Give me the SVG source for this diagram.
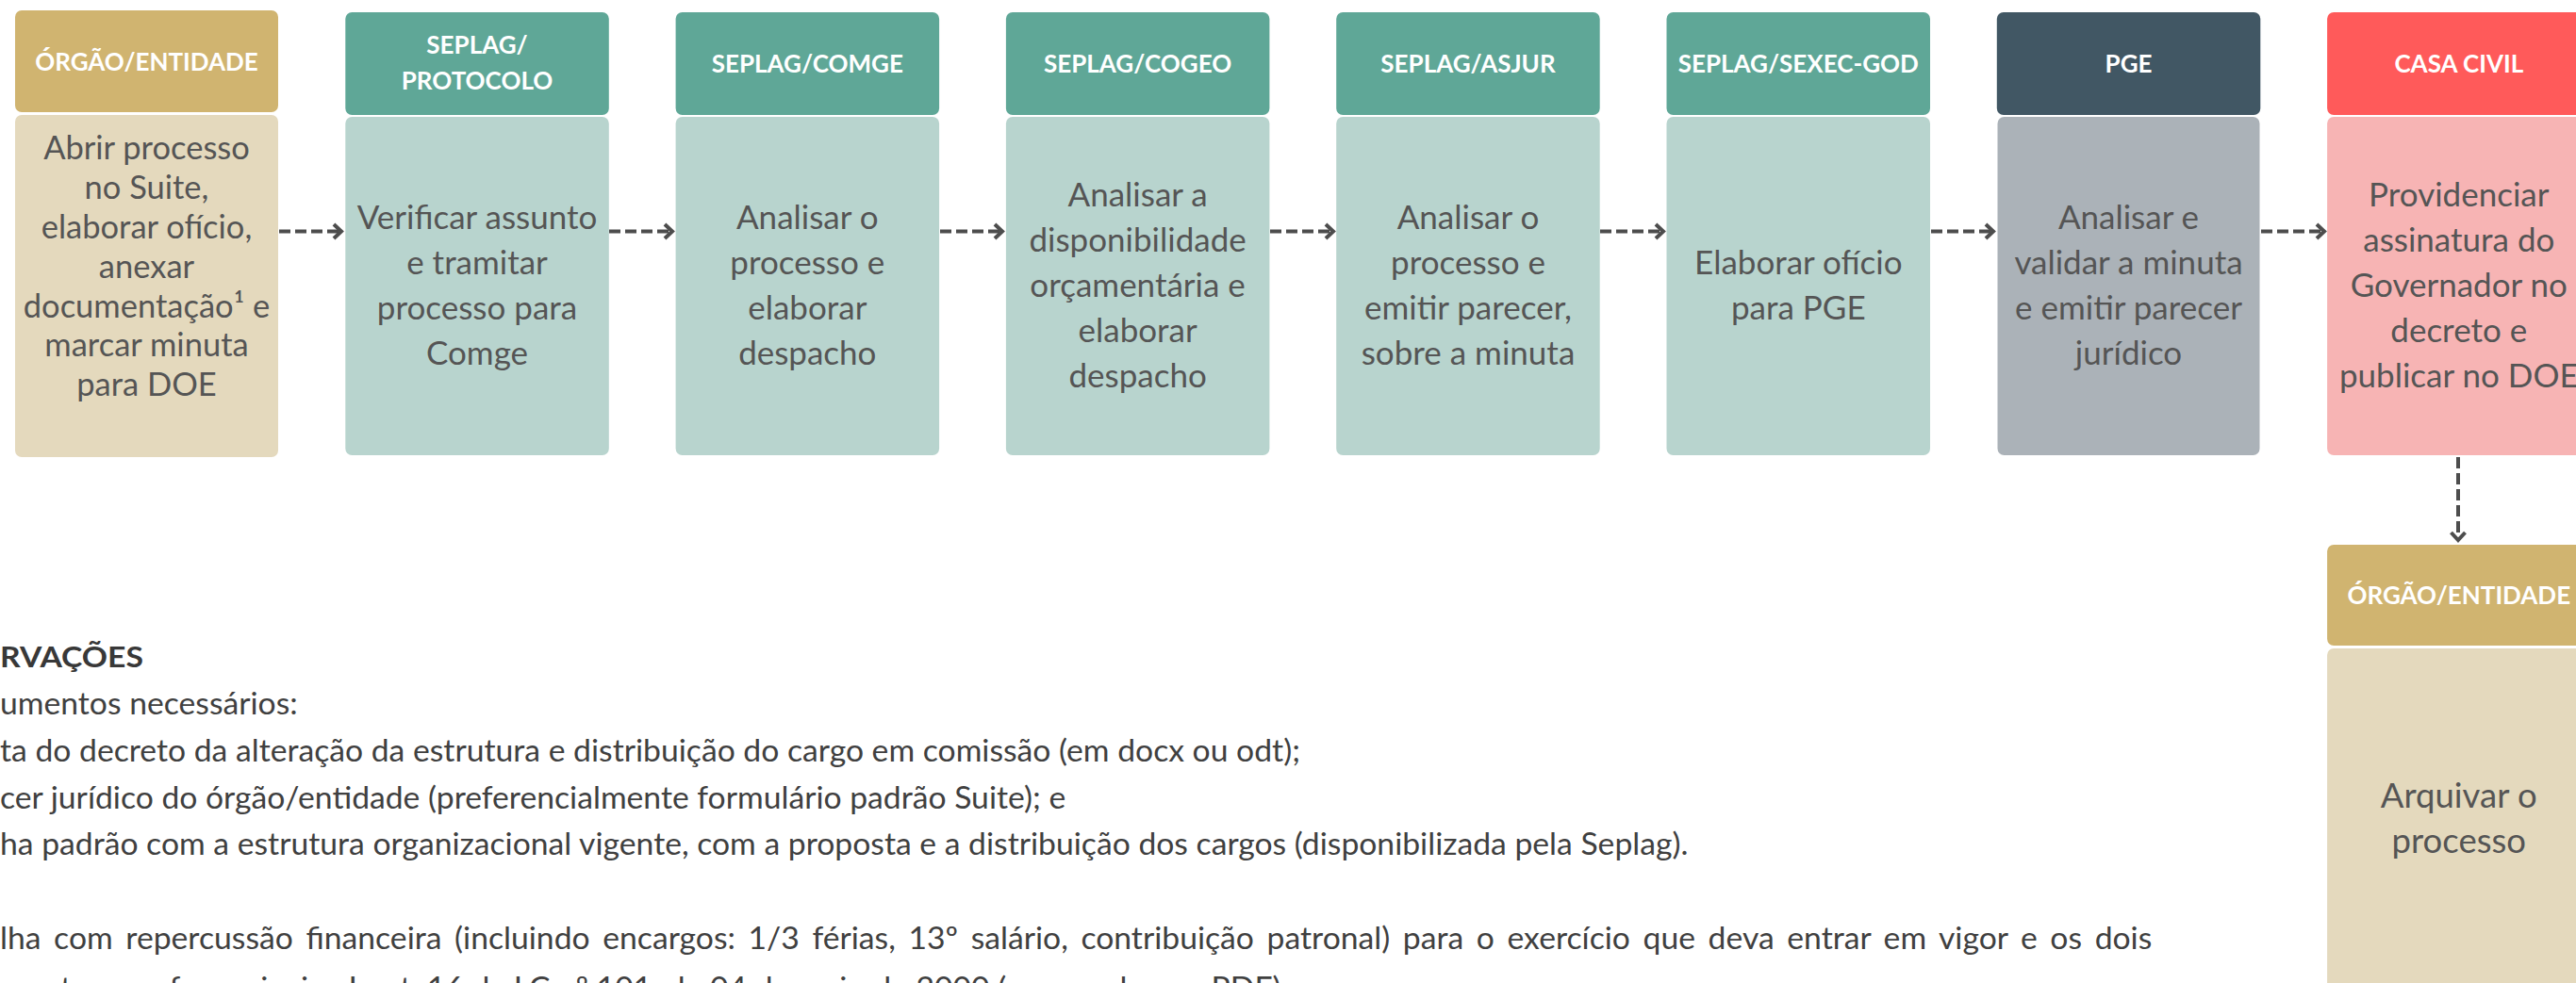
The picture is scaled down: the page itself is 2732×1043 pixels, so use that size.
<svg xmlns="http://www.w3.org/2000/svg" width="2732" height="1043" viewBox="0 0 2732 1043">
<defs>
<style>
.hd{font-family:Lato,"Noto Sans","Liberation Sans",sans-serif;font-weight:700;font-size:26px;fill:#ffffff;text-anchor:middle}
.bd{font-family:Lato,"Noto Sans","Liberation Sans",sans-serif;font-weight:400;font-size:35px;fill:#555555;text-anchor:middle}
.ob{font-family:Lato,"Noto Sans","Liberation Sans",sans-serif;font-weight:400;font-size:33.7px;fill:#404040}
.obh{font-family:Lato,"Noto Sans","Liberation Sans",sans-serif;font-weight:700;font-size:31px;fill:#383838}
.gold-h{fill:#D0B470}.gold-b{fill:#E4D9BD}
.teal-h{fill:#5FA797}.teal-b{fill:#B8D4CE}
.pge-h{fill:#415764}.pge-b{fill:#ABB2B8}
.cc-h{fill:#FF5A5A}.cc-b{fill:#F7B4B4}
.con{fill:none;stroke:#4D4D4D;stroke-width:4;stroke-dasharray:12 5;marker-end:url(#arr)}
</style>
<marker id="arr" markerUnits="userSpaceOnUse" markerWidth="20" markerHeight="24" refX="10" refY="10" orient="auto" overflow="visible">
<path d="M2,2.5 L10,10 L2,17.5" fill="none" stroke="#4D4D4D" stroke-width="4" stroke-dasharray="none"/>
</marker>
</defs>
<rect x="0" y="0" width="2732" height="1043" fill="#ffffff"/>

<g id="connectors">
<path class="con" d="M296,245.5 H362"/>
<path class="con" d="M646,245.5 H713"/>
<path class="con" d="M997,245.5 H1063"/>
<path class="con" d="M1347,245.5 H1414"/>
<path class="con" d="M1697,245.5 H1764"/>
<path class="con" d="M2048,245.5 H2114"/>
<path class="con" d="M2398,245.5 H2465"/>
<path class="con" d="M2607,485 V573"/>
</g>

<g id="node-orgao-1">
<rect class="gold-h" x="16" y="11" width="279" height="108" rx="7"/>
<rect class="gold-b" x="16" y="122" width="279" height="363" rx="7"/>
<text class="hd" x="155.5" y="75">ÓRGÃO/ENTIDADE</text>
<text class="bd" style="font-size:34.5px"><tspan x="155.5" y="169">Abrir processo</tspan><tspan x="155.5" y="211">no Suite,</tspan><tspan x="155.5" y="253">elaborar ofício,</tspan><tspan x="155.5" y="295">anexar</tspan><tspan x="155.5" y="337">documentação¹ e</tspan><tspan x="155.5" y="378">marcar minuta</tspan><tspan x="155.5" y="420">para DOE</tspan></text>
</g>

<g id="node-protocolo">
<rect class="teal-h" x="366.3" y="13" width="279.5" height="109" rx="7"/>
<rect class="teal-b" x="366.3" y="124" width="279.5" height="359" rx="7"/>
<text class="hd"><tspan x="506" y="57">SEPLAG/</tspan><tspan x="506" y="95">PROTOCOLO</tspan></text>
<text class="bd"><tspan x="506" y="243">Verificar assunto</tspan><tspan x="506" y="291">e tramitar</tspan><tspan x="506" y="339">processo para</tspan><tspan x="506" y="387">Comge</tspan></text>
</g>

<g id="node-comge">
<rect class="teal-h" x="716.6" y="13" width="279.5" height="109" rx="7"/>
<rect class="teal-b" x="716.6" y="124" width="279.5" height="359" rx="7"/>
<text class="hd" x="856.3" y="77">SEPLAG/COMGE</text>
<text class="bd"><tspan x="856.3" y="243">Analisar o</tspan><tspan x="856.3" y="291">processo e</tspan><tspan x="856.3" y="339">elaborar</tspan><tspan x="856.3" y="387">despacho</tspan></text>
</g>

<g id="node-cogeo">
<rect class="teal-h" x="1066.9" y="13" width="279.5" height="109" rx="7"/>
<rect class="teal-b" x="1066.9" y="124" width="279.5" height="359" rx="7"/>
<text class="hd" x="1206.6" y="77">SEPLAG/COGEO</text>
<text class="bd"><tspan x="1206.6" y="219">Analisar a</tspan><tspan x="1206.6" y="267">disponibilidade</tspan><tspan x="1206.6" y="315">orçamentária e</tspan><tspan x="1206.6" y="363">elaborar</tspan><tspan x="1206.6" y="411">despacho</tspan></text>
</g>

<g id="node-asjur">
<rect class="teal-h" x="1417.2" y="13" width="279.5" height="109" rx="7"/>
<rect class="teal-b" x="1417.2" y="124" width="279.5" height="359" rx="7"/>
<text class="hd" x="1557" y="77">SEPLAG/ASJUR</text>
<text class="bd"><tspan x="1557" y="243">Analisar o</tspan><tspan x="1557" y="291">processo e</tspan><tspan x="1557" y="339">emitir parecer,</tspan><tspan x="1557" y="387">sobre a minuta</tspan></text>
</g>

<g id="node-sexec">
<rect class="teal-h" x="1767.5" y="13" width="279.5" height="109" rx="7"/>
<rect class="teal-b" x="1767.5" y="124" width="279.5" height="359" rx="7"/>
<text class="hd" x="1907.3" y="77">SEPLAG/SEXEC-GOD</text>
<text class="bd"><tspan x="1907.3" y="291">Elaborar ofício</tspan><tspan x="1907.3" y="339">para PGE</tspan></text>
</g>

<g id="node-pge">
<rect class="pge-h" x="2117.8" y="13" width="279.5" height="109" rx="7"/>
<rect class="pge-b" x="2118.5" y="124" width="278" height="359" rx="7"/>
<text class="hd" x="2257.5" y="77">PGE</text>
<text class="bd"><tspan x="2257.5" y="243">Analisar e</tspan><tspan x="2257.5" y="291">validar a minuta</tspan><tspan x="2257.5" y="339">e emitir parecer</tspan><tspan x="2257.5" y="387">jurídico</tspan></text>
</g>

<g id="node-casa-civil">
<rect class="cc-h" x="2468.1" y="13" width="279.5" height="109" rx="7"/>
<rect class="cc-b" x="2468.1" y="124" width="279.5" height="359" rx="7"/>
<text class="hd" x="2607.8" y="77">CASA CIVIL</text>
<text class="bd"><tspan x="2607.8" y="219">Providenciar</tspan><tspan x="2607.8" y="267">assinatura do</tspan><tspan x="2607.8" y="315">Governador no</tspan><tspan x="2607.8" y="363">decreto e</tspan><tspan x="2607.8" y="411">publicar no DOE</tspan></text>
</g>

<g id="node-orgao-2">
<rect class="gold-h" x="2468.1" y="578" width="279.5" height="107" rx="7"/>
<rect class="gold-b" x="2468.1" y="688" width="279.5" height="400" rx="7"/>
<text class="hd" x="2607.8" y="641">ÓRGÃO/ENTIDADE</text>
<text class="bd" style="font-size:36.5px"><tspan x="2607.8" y="857">Arquivar o</tspan><tspan x="2607.8" y="905">processo</tspan></text>
</g>

<g id="observacoes">
<text class="obh" x="0" y="708" textLength="152" lengthAdjust="spacingAndGlyphs">RVAÇÕES</text>
<text class="ob" x="0" y="758">umentos necessários:</text>
<text class="ob" x="0" y="808">ta do decreto da alteração da estrutura e distribuição do cargo em comissão (em docx ou odt);</text>
<text class="ob" x="0" y="858">cer jurídico do órgão/entidade (preferencialmente formulário padrão Suite); e</text>
<text class="ob" x="0" y="907">ha padrão com a estrutura organizacional vigente, com a proposta e a distribuição dos cargos (disponibilizada pela Seplag).</text>
<text class="ob" x="0" y="1007" style="word-spacing:5px">lha com repercussão financeira (incluindo encargos: 1/3 férias, 13º salário, contribuição patronal) para o exercício que deva entrar em vigor e os dois</text>
<text class="ob" x="0" y="1060">mentos, conforme inciso I, art. 16 da LC nº 101, de 04 de maio de 2000 (em word e em PDF);</text>
</g>
</svg>
